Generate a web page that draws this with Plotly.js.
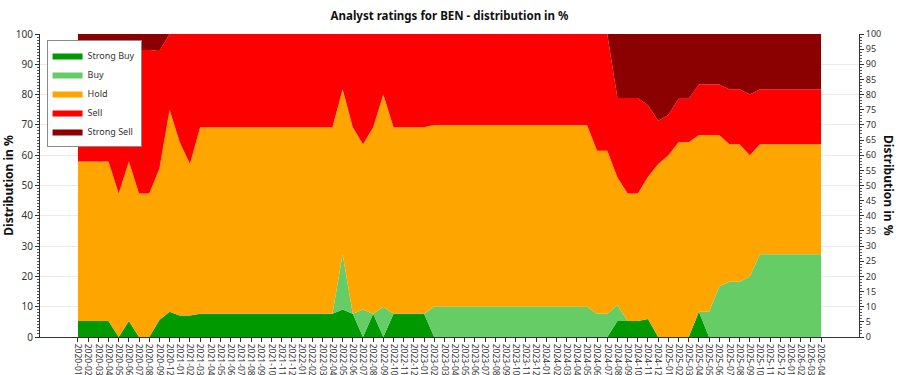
<!DOCTYPE html>
<html>
<head>
<meta charset="utf-8">
<script src="https://cdn.plot.ly/plotly-3.0.1.min.js"></script>
<style>
  html, body { margin: 0; padding: 0; background: #fff; }
  #chart { width: 900px; height: 375px; }
</style>
</head>
<body>
<div id="chart"></div>
<script>
// Month categories (2020-10 and 2020-11 are absent in the source)
const months = [
  "2020-01","2020-02","2020-03","2020-04","2020-05","2020-06","2020-07","2020-08","2020-09","2020-12",
  "2021-01","2021-02","2021-03","2021-04","2021-05","2021-06","2021-07","2021-08","2021-09","2021-10","2021-11","2021-12",
  "2022-01","2022-02","2022-03","2022-04","2022-05","2022-06","2022-07","2022-08","2022-09","2022-10","2022-11","2022-12",
  "2023-01","2023-02","2023-03","2023-04","2023-05","2023-06","2023-07","2023-08","2023-09","2023-10","2023-11","2023-12",
  "2024-01","2024-02","2024-03","2024-04","2024-05","2024-06","2024-07","2024-08","2024-09","2024-10","2024-11","2024-12",
  "2025-01","2025-02","2025-03","2025-04","2025-05","2025-06","2025-07","2025-08","2025-09","2025-10","2025-11","2025-12",
  "2026-01","2026-02","2026-03","2026-04"
];

// Distribution in % per rating (stacked)
const strongBuy = [
  5.3,5.3,5.3,5.3,0,5.3,0,0,5.6,8.3,
  7.1,7.1,7.7,7.7,7.7,7.7,7.7,7.7,7.7,7.7,7.7,7.7,
  7.7,7.7,7.7,7.7,9.1,7.7,0,7.7,0,7.7,7.7,7.7,
  7.7,0,0,0,0,0,0,0,0,0,0,0,
  0,0,0,0,0,0,0,5.3,5.3,5.3,5.9,0,
  0,0,0,8.3,0,0,0,0,0,0,0,0,
  0,0,0,0
];
const buy = [
  0,0,0,0,0,0,0,0,0,0,
  0,0,0,0,0,0,0,0,0,0,0,0,
  0,0,0,0,18.2,0,9.1,0,10,0,0,0,
  0,10,10,10,10,10,10,10,10,10,10,10,
  10,10,10,10,10,7.7,7.7,5.2,0,0,0,0,
  0,0,0,0,8.3,16.7,18.2,18.2,20,27.3,27.3,27.3,
  27.3,27.3,27.3,27.3
];
const hold = [
  52.6,52.6,52.6,52.6,47.4,52.6,47.4,47.4,50.0,66.7,
  57.2,50.0,61.5,61.5,61.5,61.5,61.5,61.5,61.5,61.5,61.5,61.5,
  61.5,61.5,61.5,61.5,54.5,61.5,54.5,61.5,70,61.5,61.5,61.5,
  61.5,60,60,60,60,60,60,60,60,60,60,60,
  60,60,60,60,60,53.8,53.8,42.1,42.1,42.1,47.0,57.1,
  60,64.3,64.3,58.4,58.4,50.0,45.4,45.4,40,36.3,36.3,36.3,
  36.3,36.3,36.3,36.3
];
const sell = [
  36.8,36.8,36.8,36.8,47.3,36.8,47.3,47.3,38.8,25.0,
  35.7,42.9,30.8,30.8,30.8,30.8,30.8,30.8,30.8,30.8,30.8,30.8,
  30.8,30.8,30.8,30.8,18.2,30.8,36.4,30.8,20,30.8,30.8,30.8,
  30.8,30,30,30,30,30,30,30,30,30,30,30,
  30,30,30,30,30,38.5,38.5,26.3,31.5,31.5,23.6,14.3,
  13.3,14.3,14.3,16.6,16.6,16.6,18.2,18.2,20,18.2,18.2,18.2,
  18.2,18.2,18.2,18.2
];
const strongSell = [
  5.3,5.3,5.3,5.3,5.3,5.3,5.3,5.3,5.6,0,
  0,0,0,0,0,0,0,0,0,0,0,0,
  0,0,0,0,0,0,0,0,0,0,0,0,
  0,0,0,0,0,0,0,0,0,0,0,0,
  0,0,0,0,0,0,0,21.1,21.1,21.1,23.5,28.6,
  26.7,21.4,21.4,16.7,16.7,16.7,18.2,18.2,20,18.2,18.2,18.2,
  18.2,18.2,18.2,18.2
];

const seriesNames = ["Strong Buy","Buy","Hold","Sell","Strong Sell"];
const seriesColors = ["#009a00","#66cc66","#ffa500","#ff0000","#8b0000"];
const seriesValues = [strongBuy, buy, hold, sell, strongSell];

const leftTicks = [0,10,20,30,40,50,60,70,80,90,100];
const rightTicks = [0,5,10,15,20,25,30,35,40,45,50,55,60,65,70,75,80,85,90,95,100];

const traces = seriesNames.map((name, k) => ({
  type: "scatter",
  mode: "lines",
  name: name,
  x: months,
  y: seriesValues[k],
  stackgroup: "one",
  line: { width: 0, color: seriesColors[k] },
  fillcolor: seriesColors[k],
  hoverinfo: "x+y+name"
}));

// invisible companion trace so that the right-hand percentage axis is drawn
traces.push({
  type: "scatter",
  mode: "lines",
  x: months,
  y: strongBuy,
  yaxis: "y2",
  line: { width: 0, color: "rgba(0,0,0,0)" },
  opacity: 0,
  showlegend: false,
  hoverinfo: "skip"
});

const FONT = "Noto Sans, Open Sans, DejaVu Sans, sans-serif";

const layout = {
  width: 900,
  height: 375,
  margin: { l: 40, r: 41, t: 34, b: 38 },
  paper_bgcolor: "#ffffff",
  plot_bgcolor: "#ffffff",
  font: { family: FONT, size: 10, color: "#333" },
  title: {
    text: "<b>Analyst ratings for BEN - distribution in %</b>",
    font: { family: FONT, size: 11.5, color: "#111" },
    x: 0.5, xref: "paper", xanchor: "center",
    y: 0.958, yref: "container", yanchor: "middle"
  },
  showlegend: true,
  legend: {
    x: 0.008, y: 0.98, xanchor: "left", yanchor: "top",
    bgcolor: "#ffffff",
    bordercolor: "#8a8a8a",
    borderwidth: 1,
    traceorder: "normal",
    font: { family: FONT, size: 9, color: "#333" },
    itemwidth: 30,
    tracegroupgap: 0
  },
  xaxis: {
    type: "category",
    categoryorder: "array",
    categoryarray: months,
    range: [-3.73, 76.73],
    tickangle: 90,
    tickfont: { family: FONT, size: 8.5, color: "#333" },
    ticks: "outside",
    ticklen: 4,
    tickcolor: "#333",
    showgrid: false,
    showline: true,
    linecolor: "#333",
    linewidth: 1,
    zeroline: false,
    automargin: false
  },
  yaxis: {
    range: [0, 100],
    tickvals: leftTicks,
    ticktext: leftTicks.map(String),
    ticks: "outside",
    ticklen: 4,
    tickcolor: "#333",
    minor: { dtick: 1, ticks: "outside", ticklen: 2, tickcolor: "#555", showgrid: false },
    showgrid: true,
    gridcolor: "#ebebeb",
    gridwidth: 1,
    showline: true,
    linecolor: "#333",
    zeroline: false,
    tickfont: { family: FONT, size: 10, color: "#333" },
    title: {
      text: "<b>Distribution in %</b>",
      font: { family: FONT, size: 12, color: "#111" },
      standoff: 8
    },
    automargin: false
  },
  yaxis2: {
    overlaying: "y",
    side: "right",
    anchor: "x",
    range: [0, 100],
    tickvals: rightTicks,
    ticktext: rightTicks.map(String),
    ticks: "outside",
    ticklen: 4,
    tickcolor: "#333",
    minor: { dtick: 1, ticks: "outside", ticklen: 2, tickcolor: "#555", showgrid: false },
    showgrid: false,
    showline: true,
    linecolor: "#333",
    zeroline: false,
    tickfont: { family: FONT, size: 9, color: "#333" },
    automargin: false
  },
  annotations: [{
    text: "<b>Distribution in %</b>",
    xref: "paper", yref: "paper",
    x: 1.036, y: 0.5,
    xanchor: "center", yanchor: "middle",
    textangle: 90,
    showarrow: false,
    font: { family: FONT, size: 12, color: "#111" }
  }]
};

Plotly.newPlot("chart", traces, layout, { displayModeBar: false, staticPlot: true });
</script>
</body>
</html>
